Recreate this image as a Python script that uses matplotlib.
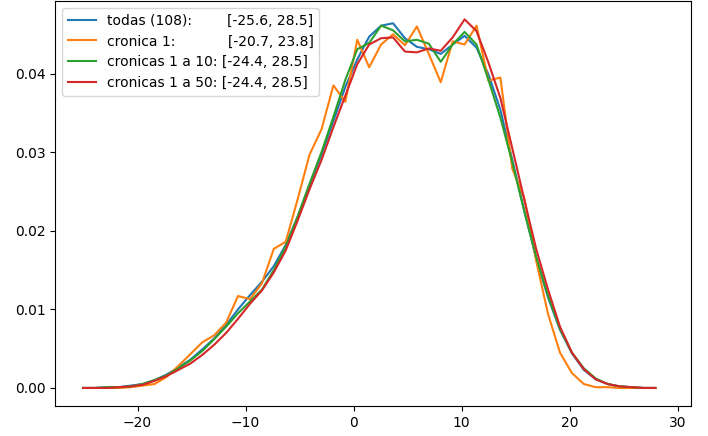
"""
plot.py
-------
Density of values per bin for all chronicles vs. subsets.
Saves the figure to out.png.
"""

import numpy as np
import matplotlib
matplotlib.use("Agg")
import matplotlib.pyplot as plt

# bins shared by every series (range of the full set)
RANGE_MIN, RANGE_MAX = -25.6, 28.5
N_BINS = 49

labels = [
    "todas (108):        [-25.6, 28.5]",
    "cronica 1:            [-20.7, 23.8]",
    "cronicas 1 a 10: [-24.4, 28.5]",
    "cronicas 1 a 50: [-24.4, 28.5]",
]

todas = [
    0.0000, 0.0000, 0.0001, 0.0001, 0.0003, 0.0005, 0.0010, 0.0017, 0.0026, 0.0036,
    0.0049, 0.0063, 0.0080, 0.0100, 0.0118, 0.0135, 0.0155, 0.0182, 0.0218, 0.0258,
    0.0297, 0.0340, 0.0383, 0.0418, 0.0447, 0.0461, 0.0464, 0.0445, 0.0434, 0.0431,
    0.0425, 0.0437, 0.0448, 0.0433, 0.0399, 0.0354, 0.0290, 0.0226, 0.0165, 0.0115,
    0.0074, 0.0044, 0.0023, 0.0011, 0.0005, 0.0002, 0.0001, 0.0000, 0.0000,
]
cronica_1 = [
    0.0000, 0.0000, 0.0000, 0.0000, 0.0001, 0.0003, 0.0005, 0.0014, 0.0028, 0.0043,
    0.0058, 0.0067, 0.0083, 0.0117, 0.0113, 0.0133, 0.0177, 0.0186, 0.0240, 0.0297,
    0.0329, 0.0385, 0.0364, 0.0443, 0.0408, 0.0437, 0.0450, 0.0436, 0.0460, 0.0425,
    0.0389, 0.0441, 0.0437, 0.0461, 0.0391, 0.0395, 0.0279, 0.0242, 0.0162, 0.0094,
    0.0045, 0.0019, 0.0005, 0.0001, 0.0001, 0.0000, 0.0000, 0.0000, 0.0000,
]
cronicas_1_10 = [
    0.0000, 0.0000, 0.0001, 0.0001, 0.0002, 0.0005, 0.0010, 0.0016, 0.0025, 0.0035,
    0.0047, 0.0062, 0.0078, 0.0095, 0.0110, 0.0125, 0.0150, 0.0180, 0.0218, 0.0260,
    0.0300, 0.0345, 0.0392, 0.0431, 0.0439, 0.0461, 0.0455, 0.0441, 0.0443, 0.0438,
    0.0415, 0.0437, 0.0453, 0.0437, 0.0392, 0.0344, 0.0287, 0.0225, 0.0167, 0.0117,
    0.0075, 0.0045, 0.0025, 0.0012, 0.0005, 0.0002, 0.0001, 0.0000, 0.0000,
]
cronicas_1_50 = [
    0.0000, 0.0000, 0.0000, 0.0001, 0.0002, 0.0004, 0.0009, 0.0015, 0.0023, 0.0031,
    0.0042, 0.0055, 0.0070, 0.0088, 0.0107, 0.0124, 0.0147, 0.0175, 0.0213, 0.0253,
    0.0290, 0.0332, 0.0372, 0.0412, 0.0437, 0.0445, 0.0446, 0.0428, 0.0427, 0.0432,
    0.0429, 0.0446, 0.0469, 0.0454, 0.0414, 0.0369, 0.0305, 0.0240, 0.0177, 0.0125,
    0.0078, 0.0045, 0.0024, 0.0011, 0.0005, 0.0002, 0.0001, 0.0000, 0.0000,
]

edges = np.linspace(RANGE_MIN, RANGE_MAX, N_BINS + 1)
centers = (edges[:-1] + edges[1:]) / 2

fig = plt.figure(figsize=(7.08, 4.36), dpi=100)
ax = fig.add_axes([0.0783, 0.0679, 0.897, 0.93])

for series, label in zip([todas, cronica_1, cronicas_1_10, cronicas_1_50], labels):
    ax.plot(centers, series, label=label)

ax.set_xlim(-27.6, 31.2)
ax.legend(loc="upper left")
fig.savefig("out.png", dpi=100)
